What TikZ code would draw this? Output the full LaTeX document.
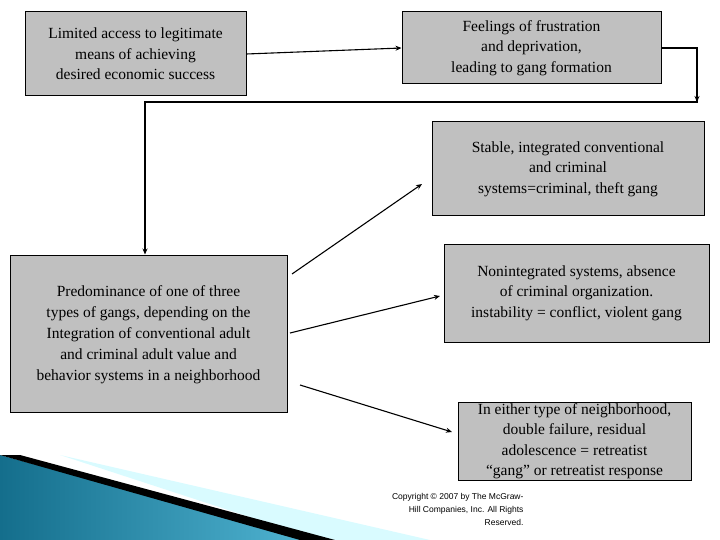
\documentclass[tikz,border=0pt]{standalone}
\usepackage{fontspec}
\setmainfont{Liberation Serif}
\newfontfamily\cpfont{Liberation Sans}
\usetikzlibrary{arrows.meta}
\begin{document}
\begin{tikzpicture}[x=1pt,y=-1pt,
 bx/.style={draw=black,line width=1pt,fill={rgb,255:red,192;green,192;blue,192},inner sep=0pt,align=center,font=\fontsize{15.5}{20.5}\selectfont},
 arr/.style={line width=1.1pt,-{Stealth[length=6pt,width=5pt]}}]
\useasboundingbox (0,0) rectangle (720,540);
% decoration
\fill[blue!10!cyan!15] (60,455) -- (430,540) -- (320,540) -- cycle;
\shade[left color={rgb,255:red,20;green,110;blue,140},right color={rgb,255:red,80;green,180;blue,210}] (0,455) -- (310,540) -- (0,540) -- cycle;
\fill[black] (0,455) -- (20,455) -- (335,540) -- (300,540) -- cycle;
% boxes
\node[bx,minimum width=221pt,minimum height=84pt] (b1) at (135.5,54) {Limited access to legitimate\\means of achieving\\desired economic success};
\node[bx,minimum width=259pt,minimum height=72pt] (b2) at (531.5,48) {Feelings of frustration\\and deprivation,\\leading to gang formation};
\node[bx,minimum width=272pt,minimum height=94pt] (b3) at (568,169) {Stable, integrated conventional\\and criminal\\systems=criminal, theft gang};
\node[bx,minimum width=265pt,minimum height=98pt] (b4) at (576.5,293) {Nonintegrated systems, absence\\of criminal organization.\\instability = conflict, violent gang};
\node[bx,minimum width=277pt,minimum height=157pt] (b5) at (148.5,333.5) {};
\node[align=center,font=\fontsize{15.5}{21}\selectfont] (t5) at (148.5,335) {Predominance of one of three\\types of gangs, depending on the\\Integration of conventional adult\\and criminal adult value and\\behavior systems in a neighborhood};
\node[bx,minimum width=233pt,minimum height=78pt] (b6) at (574.5,441) {In either type of neighborhood,\\double failure, residual\\adolescence = retreatist\\“gang” or retreatist response};
\node[align=right,font=\cpfont\fontsize{8.5}{13}\selectfont,anchor=north east] (cp) at (527,490) {Copyright © 2007 by The McGraw-\\Hill Companies, Inc. All Rights\\Reserved.};
% connectors
\coordinate (c1) at (697,48);
\coordinate (c2) at (697,102);
\coordinate (c3) at (145,102);
\draw[arr] (b1.east) -- (b2.west);
\draw[line width=1.1pt] (b2.east) -- (c1) -- (c2) -- (c3) -- (145,240);
\draw[arr] (c1) -- (c2);
\draw[arr] (c3) -- (b5.north -| c3);
\coordinate (d1) at (292,274); \coordinate (d1e) at (422,184);
\coordinate (d2) at (290,333); \coordinate (d2e) at (440,296);
\coordinate (d3) at (300,385); \coordinate (d3e) at (452,432);
\draw[arr] (d1) -- (d1e);
\draw[arr] (d2) -- (d2e);
\draw[arr] (d3) -- (d3e);
\end{tikzpicture}
\end{document}
